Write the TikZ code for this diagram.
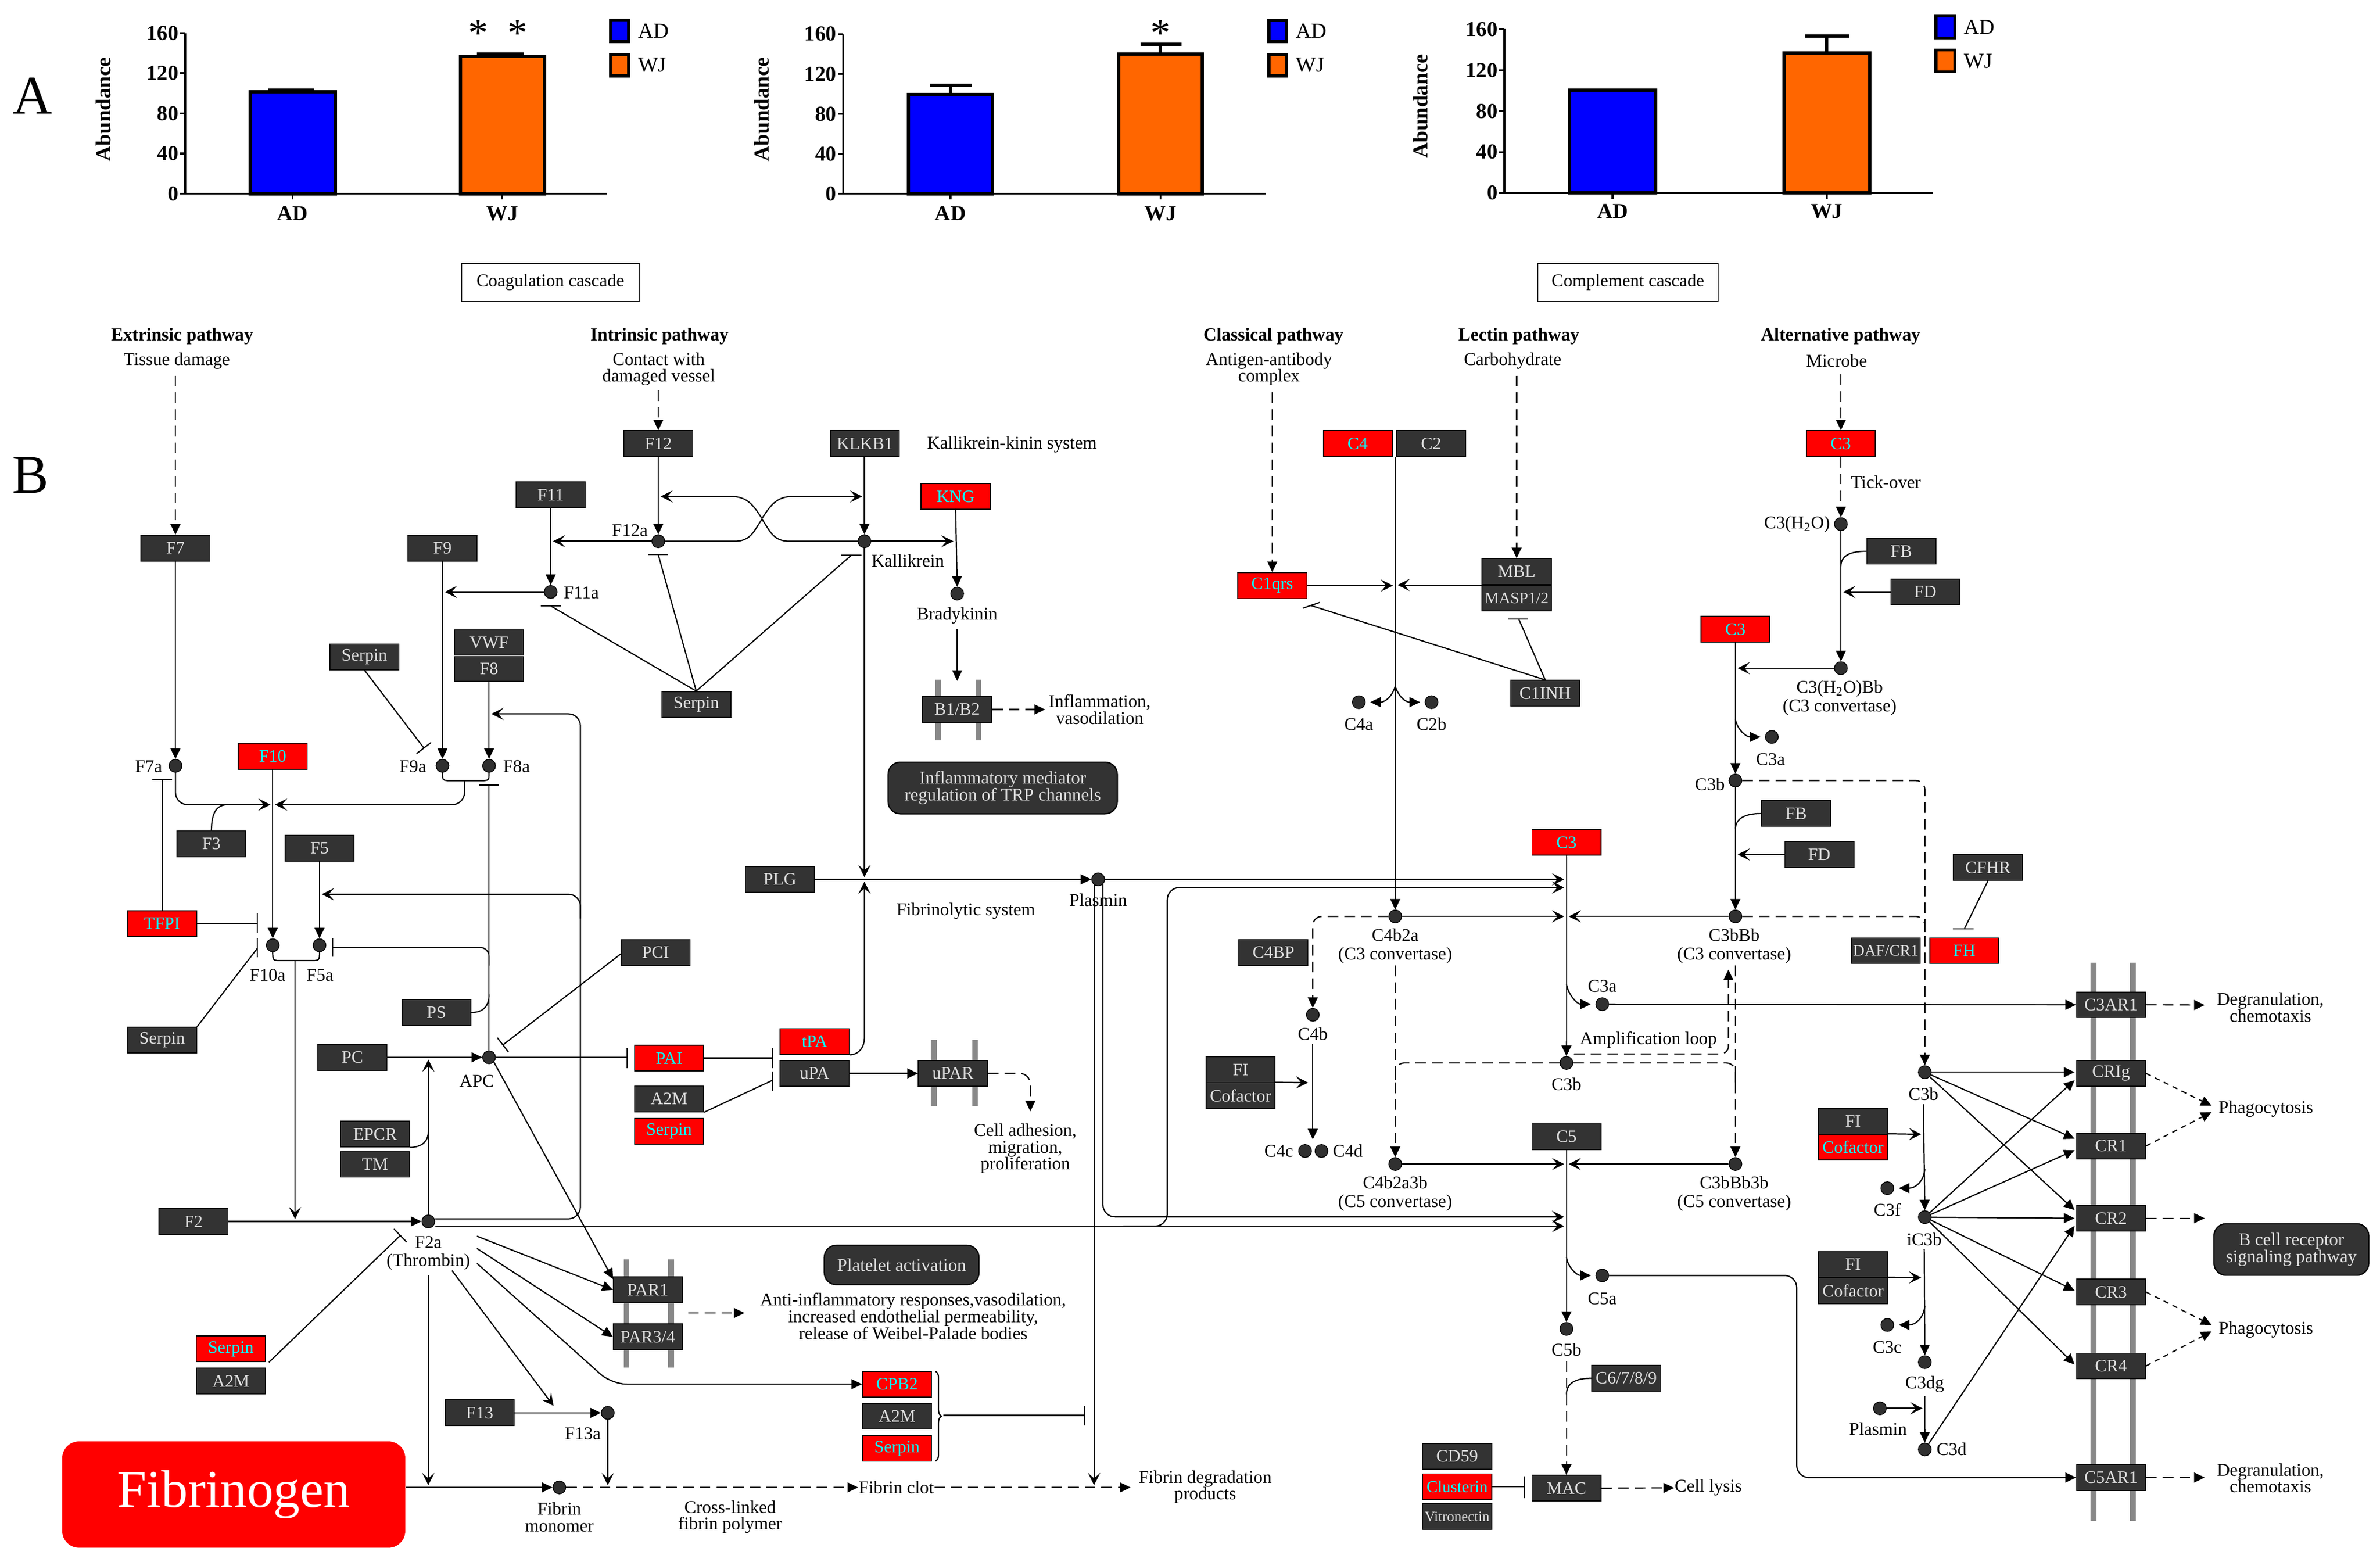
\documentclass[tikz,border=0pt]{standalone}
\usepackage{fontspec}
\setmainfont{Liberation Serif}
\usetikzlibrary{arrows.meta,calc,decorations.pathreplacing}
\definecolor{boxg}{HTML}{333333}
\definecolor{boxt}{HTML}{E0E0E0}
\definecolor{dotg}{HTML}{303030}
\definecolor{kred}{HTML}{FF0000}
\definecolor{kcyan}{HTML}{00FFFF}
\definecolor{adblue}{HTML}{0000FF}
\definecolor{wjor}{HTML}{FF6600}
\definecolor{memg}{HTML}{888888}
\newcommand\labfont{\fontsize{11.8}{11}\selectfont}
\newcommand\boxfont{\fontsize{11.5}{11.5}\selectfont}
\newcommand\chfont{\fontsize{14}{14}\selectfont\bfseries}
\newcommand\lgfont{\fontsize{14}{14}\selectfont}
\begin{document}
\begin{tikzpicture}[x=1pt,y=-1pt, line width=0.8pt,
 gbox/.style={draw=black, line width=0.6pt, fill=boxg, text=boxt, minimum width=45.5pt, minimum height=17pt, inner sep=0pt, font=\boxfont},
 rbox/.style={gbox, fill=kred, text=kcyan},
 dotn/.style={circle, draw=black, line width=0.5pt, fill=dotg, minimum size=8.5pt, inner sep=0pt},
 lab/.style={font=\labfont, inner sep=0pt, align=center},
 hd/.style={font={\fontsize{12}{12}\selectfont\bfseries}, inner sep=0pt},
 pbox/.style={draw=black, fill=boxg, text=boxt, rounded corners=8pt, font=\labfont, align=center, inner sep=0pt},
 arrT/.style={-{Triangle[length=7pt,width=6.5pt]}},
 arrS/.style={-{Stealth[length=8pt,width=8pt,inset=3.5pt]}},
 arrSS/.style={{Stealth[length=8pt,width=8pt,inset=3.5pt]}-{Stealth[length=8pt,width=8pt,inset=3.5pt]}},
 arrB/.style={-{Bar[width=12pt]}},
 dsh/.style={dash pattern=on 7pt off 4pt},
 dsf/.style={dash pattern=on 3.5pt off 3pt},
 mem/.style={draw=memg, line width=3.8pt},
 axisl/.style={line width=1.2pt},
 barl/.style={line width=2.2pt},
]
\useasboundingbox (0,0) rectangle (1568,1024.2);

% ================= Part A =================
\node[font=\fontsize{36}{36}\selectfont, inner sep=0pt] (lblA) at (21.5,63) {A};
\node[font=\fontsize{36}{36}\selectfont, inner sep=0pt] (lblB) at (20,313) {B};

% chart 1
\draw[axisl] (122,21.8) -- (122,127.6) -- (400,127.6);
\foreach \v in {0,40,80,120,160}{
  \draw[axisl] (118.5,{127.6-0.661*\v}) -- (122,{127.6-0.661*\v});
  \node[font=\chfont, anchor=east, inner sep=0pt] (ca\v) at (118,{127.6-0.661*\v}) {\v};}
\draw[axisl] (192.8,127.6) -- (192.8,131.5);
\draw[axisl] (331,127.6) -- (331,131.5);
\draw[barl, fill=adblue] (164.8,127.6) rectangle (220.9,60.4);
\draw[barl] (176.7,59.3) -- (207,59.3);
\draw[barl, fill=wjor] (303.4,127.6) rectangle (358.9,37.1);
\draw[barl] (314.2,35.8) -- (345.3,35.8);
\node[font=\chfont, inner sep=0pt] (xa1) at (192.8,140.7) {AD};
\node[font=\chfont, inner sep=0pt] (xb1) at (331,140.7) {WJ};
\node[font=\fontsize{26}{26}\selectfont, anchor=north, inner sep=0pt] (st1) at (315,13) {*};
\node[font=\fontsize{26}{26}\selectfont, anchor=north, inner sep=0pt] (st2) at (341,13) {*};
\node[font=\chfont, rotate=90, inner sep=0pt] (ab1) at (68,72) {Abundance};
\draw[line width=2pt, fill=adblue] (402.2,13.1) rectangle (414.3,27.3);
\draw[line width=2pt, fill=wjor] (402.2,36) rectangle (414.3,50);
\node[font=\lgfont, anchor=west, inner sep=0pt] (lg1a) at (420,20.5) {AD};
\node[font=\lgfont, anchor=west, inner sep=0pt] (lg1b) at (420,43) {WJ};

% chart 2
\draw[axisl] (555.4,22.5) -- (555.4,127.6) -- (834,127.6);
\foreach \v in {0,40,80,120,160}{
  \draw[axisl] (551.9,{127.6-0.6575*\v}) -- (555.4,{127.6-0.6575*\v});
  \node[font=\chfont, anchor=east, inner sep=0pt] (cb\v) at (551.4,{127.6-0.6575*\v}) {\v};}
\draw[axisl] (626.2,127.6) -- (626.2,131.5);
\draw[axisl] (764.5,127.6) -- (764.5,131.5);
\draw[barl] (626.2,62.2) -- (626.2,56.3);
\draw[barl] (612.5,56.3) -- (640.2,56.3);
\draw[barl, fill=adblue] (598.6,127.6) rectangle (653.9,62.2);
\draw[barl] (764.5,35.5) -- (764.5,29.2);
\draw[barl] (751.3,29.2) -- (778.3,29.2);
\draw[barl, fill=wjor] (737.1,127.6) rectangle (792,35.5);
\node[font=\chfont, inner sep=0pt] (xa2) at (626.2,140.7) {AD};
\node[font=\chfont, inner sep=0pt] (xb2) at (764.5,140.7) {WJ};
\node[font=\fontsize{26}{26}\selectfont, anchor=north, inner sep=0pt] (st3) at (764.4,13) {*};
\node[font=\chfont, rotate=90, inner sep=0pt] (ab2) at (501.9,72) {Abundance};
\draw[line width=2pt, fill=adblue] (835.9,13.5) rectangle (847.7,27.3);
\draw[line width=2pt, fill=wjor] (835.9,36) rectangle (847.7,50);
\node[font=\lgfont, anchor=west, inner sep=0pt] (lg2a) at (853.5,20.5) {AD};
\node[font=\lgfont, anchor=west, inner sep=0pt] (lg2b) at (853.5,43) {WJ};

% chart 3
\draw[axisl] (991.1,19.2) -- (991.1,127.1) -- (1273.7,127.1);
\foreach \v in {0,40,80,120,160}{
  \draw[axisl] (987.6,{127.1-0.674*\v}) -- (991.1,{127.1-0.674*\v});
  \node[font=\chfont, anchor=east, inner sep=0pt] (cc\v) at (987.1,{127.1-0.674*\v}) {\v};}
\draw[axisl] (1062.4,127.1) -- (1062.4,131);
\draw[axisl] (1203.5,127.1) -- (1203.5,131);
\draw[barl, fill=adblue] (1034,127.1) rectangle (1090.8,59.3);
\draw[barl] (1203.5,34.9) -- (1203.5,23.6);
\draw[barl] (1189.5,23.6) -- (1218,23.6);
\draw[barl, fill=wjor] (1175.3,127.1) rectangle (1231.8,34.9);
\node[font=\chfont, inner sep=0pt] (xa3) at (1062.4,139.2) {AD};
\node[font=\chfont, inner sep=0pt] (xb3) at (1203.5,139.2) {WJ};
\node[font=\chfont, rotate=90, inner sep=0pt] (ab3) at (935.6,70) {Abundance};
\draw[line width=2pt, fill=adblue] (1275.4,10.5) rectangle (1287.8,25);
\draw[line width=2pt, fill=wjor] (1275.4,33) rectangle (1287.8,47.3);
\node[font=\lgfont, anchor=west, inner sep=0pt] (lg3a) at (1293.5,18) {AD};
\node[font=\lgfont, anchor=west, inner sep=0pt] (lg3b) at (1293.5,40.5) {WJ};

% ================= Part B =================
% membranes
\draw[mem] (618,447.7) -- (618,487.6);
\draw[mem] (644.5,447.7) -- (644.5,487.6);
\draw[mem] (615.3,685) -- (615.3,728.5);
\draw[mem] (642.3,685) -- (642.3,728.5);
\draw[mem] (412.8,829.5) -- (412.8,900.8);
\draw[mem] (442.1,829.5) -- (442.1,900.8);
\draw[mem] (1379.3,634) -- (1379.3,1001.9);
\draw[mem] (1405.2,634) -- (1405.2,1001.9);

\node[draw=black, line width=0.6pt, minimum width=117pt, minimum height=25pt, font=\labfont, inner sep=0pt] (coag) at (362.6,186) {Coagulation cascade};
\node[draw=black, line width=0.6pt, minimum width=119pt, minimum height=25pt, font=\labfont, inner sep=0pt] (compl) at (1072.5,186) {Complement cascade};

% ---- coagulation nodes
\node[hd] (hExt) at (120,221.4) {Extrinsic pathway};
\node[lab] (tTis) at (116.5,237.7) {Tissue damage};
\node[hd] (hInt) at (434.5,221.4) {Intrinsic pathway};
\node[lab] (tCon) at (434,243.2) {Contact with\\damaged vessel};
\node[gbox] (F12) at (433.7,292.2) {F12};
\node[gbox] (KLKB1) at (569.8,292.2) {KLKB1};
\node[lab, anchor=west] (tKKS) at (610.4,293) {Kallikrein-kinin system};
\node[rbox] (KNG) at (629.6,327) {KNG};
\node[gbox] (F11) at (362.8,326) {F11};
\node[dotn] (F12a) at (433.7,356.5) {};
\node[lab] (lF12a) at (415,349.5) {F12a};
\node[dotn] (Kal) at (569.5,356.5) {};
\node[lab, anchor=west] (lKal) at (573.8,369.2) {Kallikrein};
\node[dotn] (F11a) at (362.8,389.9) {};
\node[lab, anchor=west] (lF11a) at (371,390.5) {F11a};
\node[dotn] (Brady) at (630.6,391) {};
\node[lab] (lBrady) at (630.6,405.6) {Bradykinin};
\node[gbox] (B12) at (630.6,467.3) {B1/B2};
\node[lab] (tInfl) at (724.5,467.3) {Inflammation,\\vasodilation};
\node[pbox, minimum width=151pt, minimum height=34pt] (pTRP) at (660.6,519) {Inflammatory mediator\\regulation of TRP channels};
\node[gbox] (F7) at (115.6,361) {F7};
\node[gbox] (F9) at (291.5,361) {F9};
\node[gbox] (SerA) at (240.1,432.6) {Serpin};
\node[gbox, minimum height=16.4pt] (VWF) at (322.2,423.2) {VWF};
\node[gbox, minimum height=16.4pt] (F8) at (322.2,440.6) {F8};
\node[gbox] (SerB) at (458.7,464) {Serpin};
\node[dotn] (F7a) at (115.6,504.4) {};
\node[lab] (lF7a) at (98,505) {F7a};
\node[rbox] (F10) at (179.7,498.1) {F10};
\node[dotn] (F9a) at (291.5,504.4) {};
\node[lab] (lF9a) at (272,505) {F9a};
\node[dotn] (F8a) at (322.2,504.4) {};
\node[lab] (lF8a) at (340.3,505) {F8a};
\node[gbox] (F3) at (139.3,555.7) {F3};
\node[gbox] (F5) at (210.5,558.7) {F5};
\node[rbox] (TFPI) at (106.8,608.3) {TFPI};
\node[dotn] (F10a) at (179.7,622.6) {};
\node[dotn] (F5a) at (210.5,622.6) {};
\node[lab] (lF10a) at (176.3,642.2) {F10a};
\node[lab] (lF5a) at (210.8,642.2) {F5a};
\node[gbox] (PLG) at (513.8,579.2) {PLG};
\node[dotn] (Plas) at (723.5,579.2) {};
\node[lab] (lPlas) at (723.5,592.7) {Plasmin};
\node[lab] (tFib) at (636.3,600.3) {Fibrinolytic system};
\node[gbox] (PCI) at (431.9,627.4) {PCI};
\node[gbox] (PS) at (287.5,666.9) {PS};
\node[gbox] (SerC) at (106.8,685.1) {Serpin};
\node[gbox] (PC) at (232.2,696.4) {PC};
\node[dotn] (APC) at (322.2,696.4) {};
\node[lab] (lAPC) at (314.2,712.2) {APC};
\node[rbox] (PAI) at (440.8,696.9) {PAI};
\node[rbox] (tPA) at (536.7,686) {tPA};
\node[gbox] (uPA) at (536.7,707) {uPA};
\node[gbox] (uPAR) at (627.8,707) {uPAR};
\node[lab] (tCell) at (675.5,756.6) {Cell adhesion,\\migration,\\proliferation};
\node[gbox] (A2Ma) at (440.8,723.8) {A2M};
\node[rbox] (SerD) at (440.8,745.1) {Serpin};
\node[gbox] (EPCR) at (247.1,747) {EPCR};
\node[gbox] (TM) at (247.1,766.9) {TM};
\node[gbox] (F2) at (127.5,804.5) {F2};
\node[dotn] (F2a) at (282.2,804.5) {};
\node[lab] (lF2a) at (282.2,825.5) {F2a\\[1pt](Thrombin)};
\node[gbox] (PAR1) at (426.8,849.6) {PAR1};
\node[gbox] (PAR34) at (426.8,880.5) {PAR3/4};
\node[pbox, minimum width=102pt, minimum height=26pt] (pPlt) at (594,833.2) {Platelet activation};
\node[lab] (tAnti) at (601.6,867) {Anti-inflammatory responses,vasodilation,\\increased endothelial permeability,\\release of Weibel-Palade bodies};
\node[rbox] (SerE) at (152.1,888.5) {Serpin};
\node[gbox] (A2Mb) at (152.1,909.7) {A2M};
\node[rbox] (CPB2) at (591,911.7) {CPB2};
\node[gbox] (A2Mc) at (591,932.8) {A2M};
\node[rbox] (SerF) at (591,954) {Serpin};
\node[gbox] (F13) at (316.1,930.6) {F13};
\node[dotn] (F13a) at (400.4,930.6) {};
\node[lab] (lF13a) at (384,944.4) {F13a};
\node[fill=kred, rounded corners=11pt, minimum width=226pt, minimum height=70pt, text=white, font=\fontsize{35}{35}\selectfont, inner sep=0pt] (Fbg) at (154,984.4) {Fibrinogen};
\node[dotn] (Fmono) at (368.5,979.7) {};
\node[lab] (lFmono) at (368.5,999.4) {Fibrin\\monomer};
\node[lab] (tCross) at (481,999.2) {Cross-linked\\fibrin polymer};
\node[lab] (tClot) at (590.5,979.7) {Fibrin clot};
\node[lab] (tDeg) at (794,979.5) {Fibrin degradation\\products};

% ---- complement nodes
\node[hd] (hCla) at (839,221.4) {Classical pathway};
\node[lab] (tAnt) at (836,243.2) {Antigen-antibody\\complex};
\node[hd] (hLec) at (1000.7,221.4) {Lectin pathway};
\node[lab] (tCarb) at (996.6,237.7) {Carbohydrate};
\node[hd] (hAlt) at (1212.7,221.4) {Alternative pathway};
\node[lab] (tMic) at (1210,237.7) {Microbe};
\node[rbox] (C4) at (894.5,292.2) {C4};
\node[gbox] (C2) at (942.9,292.2) {C2};
\node[rbox] (C3top) at (1212.8,292.2) {C3};
\node[lab] (tTick) at (1242.5,317.4) {Tick-over};
\node[dotn] (C3H2O) at (1212.8,345.2) {};
\node[lab, anchor=east] (lC3H2O) at (1206,345.5) {C3(H\textsubscript{2}O)};
\node[gbox] (FB1) at (1252.6,363.1) {FB};
\node[gbox] (FD1) at (1268.4,389.9) {FD};
\node[dotn] (C3H2OBb) at (1212.8,440.1) {};
\node[lab] (lC3H2OBb) at (1212,459.7) {C3(H\textsubscript{2}O)Bb\\[1.3pt](C3 convertase)};
\node[rbox] (C1qrs) at (838.2,385.7) {C1qrs};
\node[gbox] (MBL) at (999.2,376.5) {MBL};
\node[gbox, font=\fontsize{10.5}{10.5}\selectfont] (MASP) at (999.2,393.9) {MASP1/2};
\node[gbox] (C1INH) at (1018,456.6) {C1INH};
\node[dotn] (C4a) at (895.2,462.5) {};
\node[dotn] (C2b) at (943.1,462.5) {};
\node[lab] (lC4a) at (895.2,477.1) {C4a};
\node[lab] (lC2b) at (943.1,477.1) {C2b};
\node[rbox] (C3r) at (1143.3,414.5) {C3};
\node[dotn] (C3a_u) at (1167.3,485.4) {};
\node[lab] (lC3au) at (1166.5,500) {C3a};
\node[dotn] (C3b_u) at (1143.3,514.1) {};
\node[lab] (lC3bu) at (1126.5,516.4) {C3b};
\node[gbox] (FB2) at (1183.3,535.8) {FB};
\node[gbox] (FD2) at (1198.6,562.8) {FD};
\node[rbox] (C3m) at (1032,554.8) {C3};
\node[gbox] (CFHR) at (1309.7,571.4) {CFHR};
\node[gbox, font=\fontsize{10.5}{10.5}\selectfont] (DAF) at (1242.4,626.2) {DAF/CR1};
\node[rbox] (FH) at (1294.1,626.2) {FH};
\node[dotn] (C4b2a) at (919.2,603.6) {};
\node[lab] (lC4b2a) at (919.2,623.2) {C4b2a\\[1.3pt](C3 convertase)};
\node[dotn] (C3bBb) at (1143.3,603.6) {};
\node[lab] (lC3bBb) at (1142.5,623.2) {C3bBb\\[1.3pt](C3 convertase)};
\node[gbox] (C4BP) at (839,627.3) {C4BP};
\node[dotn] (C3a_m) at (1055.6,661.4) {};
\node[lab] (lC3am) at (1055.6,649.4) {C3a};
\node[lab] (tAmp) at (1086,685) {Amplification loop};
\node[dotn] (C3b_m) at (1032,700.1) {};
\node[lab] (lC3bm) at (1032,714.2) {C3b};
\node[dotn] (C4b) at (864.9,668.4) {};
\node[lab] (lC4b) at (864.9,681) {C4b};
\node[gbox] (FIa) at (817.3,704.6) {FI};
\node[gbox] (Cofa) at (817.3,721.6) {Cofactor};
\node[dotn] (C4c) at (859.8,758.1) {};
\node[dotn] (C4d) at (870.6,758.1) {};
\node[lab] (lC4c) at (842.5,758.1) {C4c};
\node[lab] (lC4d) at (888,758.1) {C4d};
\node[gbox] (C5) at (1032,748.7) {C5};
\node[dotn] (C4b2a3b) at (919.2,766.7) {};
\node[lab] (lC4b2a3b) at (919.2,786.3) {C4b2a3b\\[1.3pt](C5 convertase)};
\node[dotn] (C3bBb3b) at (1143.3,766.7) {};
\node[lab] (lC3bBb3b) at (1142.5,786.3) {C3bBb3b\\[1.3pt](C5 convertase)};
\node[dotn] (C5a) at (1055.6,840.1) {};
\node[lab] (lC5a) at (1055.6,855.3) {C5a};
\node[dotn] (C5b) at (1032,875.3) {};
\node[lab] (lC5b) at (1032,889) {C5b};
\node[gbox] (C6789) at (1071.4,907.8) {C6/7/8/9};
\node[gbox] (CD59) at (960,959.2) {CD59};
\node[rbox, font=\fontsize{11}{11}\selectfont] (Clus) at (960,979.3) {Clusterin};
\node[gbox, font=\fontsize{9.5}{9.5}\selectfont] (Vitro) at (960,999) {Vitronectin};
\node[gbox] (MAC) at (1032,980.2) {MAC};
\node[lab] (tLysis) at (1125.5,980) {Cell lysis};
\node[dotn] (C3b_r) at (1268.1,706.2) {};
\node[lab] (lC3br) at (1267.2,720.7) {C3b};
\node[gbox] (FIb) at (1220.8,738.5) {FI};
\node[rbox] (Cofb) at (1220.8,755.6) {Cofactor};
\node[dotn] (C3f) at (1243.4,782.6) {};
\node[lab] (lC3f) at (1243.4,796.7) {C3f};
\node[dotn] (iC3b) at (1268.1,801.7) {};
\node[lab] (liC3b) at (1267.7,816.2) {iC3b};
\node[gbox] (FIc) at (1220.8,832.9) {FI};
\node[gbox] (Cofc) at (1220.8,850.1) {Cofactor};
\node[dotn] (C3c) at (1243.4,872.7) {};
\node[lab] (lC3c) at (1243.4,887.4) {C3c};
\node[dotn] (C3dg) at (1268.1,897.2) {};
\node[lab] (lC3dg) at (1268,911.8) {C3dg};
\node[dotn] (PlasR) at (1238.5,927.6) {};
\node[lab] (lPlasR) at (1237.3,941.1) {Plasmin};
\node[dotn] (C3d) at (1268.1,954.7) {};
\node[lab, anchor=west] (lC3d) at (1275.5,954.5) {C3d};
\node[gbox] (C3AR1) at (1390.8,661.8) {C3AR1};
\node[gbox] (CRIg) at (1390.8,707) {CRIg};
\node[gbox] (CR1) at (1390.8,754.8) {CR1};
\node[gbox] (CR2) at (1390.8,802.4) {CR2};
\node[gbox] (CR3) at (1390.8,851) {CR3};
\node[gbox] (CR4) at (1390.8,899.7) {CR4};
\node[gbox] (C5AR1) at (1390.8,973.2) {C5AR1};
\node[lab] (tDeg1) at (1495.8,663.5) {Degranulation,\\chemotaxis};
\node[lab] (tDeg2) at (1495.8,973.6) {Degranulation,\\chemotaxis};
\node[lab, anchor=west] (tPhag1) at (1461.3,730.5) {Phagocytosis};
\node[lab, anchor=west] (tPhag2) at (1461.3,876) {Phagocytosis};
\node[pbox, minimum width=102pt, minimum height=34pt] (pBcr) at (1509.6,823) {B cell receptor\\signaling pathway};

% ================= coagulation edges =================
\draw[dsh,arrT] (F7.north |- 0,247.5) -- (F7.north);
\draw[dsh,arrT] (F12.north |- 0,257) -- (F12.north);
\draw[arrT] (F12.south) -- (F12a.north);
\draw[arrT] (Kal.north |- KLKB1.south) -- (Kal.north);
\draw[arrS, shorten >=1.5pt] (F12a.west) -- (F11.south |- F12a);
\draw[arrS, shorten >=1.5pt] (Kal.east) -- (KNG.south |- Kal);
\draw[arrSS, shorten <=1.5pt, shorten >=1.5pt] (F12.south |- 0,327) -- (482,327) .. controls (493,327) and (497,334) .. (502,341.5) .. controls (507,334) and (511,327) .. (522,327) -- (Kal.north |- 0,327);
\draw (F12a.east) -- (484,356.5) .. controls (495,356.5) and (497,349) .. (502,342) .. controls (507,349) and (509,356.5) .. (520,356.5) -- (Kal.west);
\draw[arrT] (F11.south) -- (F11a.north);
\draw[arrS, shorten >=1.5pt] (F11a.west) -- (F9.south |- F11a);
\draw (SerB.north) -- (363,399.2); \draw (356.3,399.2) -- (369.5,399.2);
\draw (SerB.north) -- (433.7,365.4); \draw (427.2,365.4) -- (440.2,365.4);
\draw (SerB.north) -- (561,365.6); \draw (554.2,365.6) -- (567.6,365.6);
\draw[arrT] (KNG.south) -- (Brady.north);
\draw[arrT] ([yshift=-3pt]lBrady.south) -- ([yshift=10pt]B12.north);
\draw[dsh, arrT] (B12.east) -- ([xshift=-2pt]tInfl.west |- B12.east);
\draw[arrT] (F7.south) -- (F7a.north);
\draw[arrS, rounded corners=8pt, shorten >=1.5pt] (F7a.south) -- (F7a |- 0,530) -- (F10.south |- 0,530);
\draw (F3.north) .. controls (139.3,535) and (143,530) .. (150,530);
\draw (F9a.south) .. controls (291.5,514.2) .. (298,514.2) -- (315.5,514.2) .. controls (322.2,514.2) .. (F8a.south);
\draw[arrS, rounded corners=8pt, shorten >=1.5pt] (306,514.2) -- (306,530) -- (F10.south |- 0,530);
\draw[arrT] (F9.south) -- (F9a.north);
\draw[arrT] (F8.south) -- (F8a.north);
\draw[arrB] (SerA.south) -- (279.5,493);
\draw[arrT] (F10.south) -- (F10a.north);
\draw[arrT] (F5.south) -- (F5a.north);
\draw (TFPI.north) -- (106.8,513.5); \draw (100.3,513.5) -- (113.4,513.5);
\draw (TFPI.east) -- (169.6,608.3); \draw (169.6,601.5) -- (169.6,614.5);
\draw (SerC.north east) -- (169.6,624.5); \draw (169.6,618) -- (169.6,630.5);
\draw (F10a.south) .. controls (179.7,632.7) .. (186,632.7) -- (204,632.7) .. controls (210.5,632.7) .. (F5a.south);
\draw[arrS, shorten >=1.5pt] (194.4,632.7) -- (194.4,804.5);
\draw (APC.north) -- (322.2,517); \draw (315.7,517) -- (328.7,517);
\draw[rounded corners=6pt] (219.1,624) -- (322.2,624) -- (322.2,636);
\draw (219.1,617.8) -- (219.1,630.2);
\draw (PS.east) .. controls (318,666.9) and (322.2,663) .. (322.2,655);
\draw[arrS, rounded corners=8pt, shorten >=1.5pt] (F2a.east |- 0,802.8) -- (382.4,802.8) -- (382.4,470.2) -- (F8.south |- 0,470.2);
\draw[arrS, rounded corners=8pt, shorten >=1.5pt] (382.4,605) -- (382.4,589) -- (F5.south |- 0,589);
\draw[arrT] (F2.east) -- (F2a.west);
\draw[arrS, shorten >=1.5pt] (F2a.north) -- (F2a |- APC);
\draw[arrT] (PC.east) -- (APC.west);
\draw (EPCR.south east) .. controls (278,755.5) and (282.2,752) .. (282.2,745);
\draw (APC.east) -- (413,696.4); \draw (413,690.3) -- (413,703.4);
\draw[arrB] ([yshift=-1pt]PCI.west) -- (331,688.5);
\draw (PAI.east) -- (509,696.9); \draw (509,690.3) -- (509,703.4);
\draw (A2Ma.south east) -- (509,711.5); \draw (509,705.6) -- (509,718.7);
\draw[arrS, shorten >=1.5pt] (tPA.south east) .. controls (566,694.5) and (569.5,690) .. (569.5,683) -- (Kal |- PLG);
\draw[arrS, shorten >=1.5pt] (Kal.south) -- (Kal |- PLG);
\draw[arrT] (PLG.east) -- (Plas.west);
\draw[arrT] (uPA.east) -- (uPAR.west);
\draw[dsh, arrT, rounded corners=7pt] (uPAR.east) -- (678.8,707) -- (678.8,732);
\draw[arrS, shorten >=1.5pt] (Plas.east) -- (C3m.south |- Plas);
\draw[arrS, rounded corners=8pt, shorten >=1.5pt] (726.6,582.5) -- (726.6,801.5) -- (C5.south |- 0,801.5);
\draw[arrS, shorten >=1.5pt] (720.8,582.5) -- (720.8,979.7);
\draw[arrS, shorten >=1.5pt] (F2a.east |- 0,807.6) -- (C5.south |- 0,807.6);
\draw[arrS, rounded corners=8pt, shorten >=1.5pt] (740,807.6) -- (769,807.6) -- (769,584.6) -- (C3m.south |- 0,584.6);
\draw[arrS, shorten >=1.5pt] ([yshift=-3pt]lF2a.south) -- (F2a |- Fmono);
\draw[arrT] (Fbg.east |- Fmono) -- (Fmono.west);
\draw[dsh, arrT] (Fmono.east) -- (tClot.west);
\draw[dsh, arrT, shorten >=5pt] (tClot.east) -- (tDeg.west |- tClot);
\draw[arrT] (F13.east) -- (F13a.west);
\draw[arrS, shorten >=1.5pt] (F13a.south) -- (F13a |- Fmono);
\draw[arrS] (297.8,836.9) -- (364.7,926);
\draw[arrT] (314.2,814.2) -- (PAR1.west);
\draw[arrT] (314.2,822.3) -- (PAR34.west);
\draw[arrT, rounded corners=10pt] (314.2,832.1) -- (403,911.7) -- (CPB2.west);
\draw[arrT] (APC.south east) -- (403.9,842.5);
\draw[dsh, arrT] (453.4,864.8) -- (490.5,864.8);
\draw[arrB] ([xshift=2pt]SerE.south east) -- (264,813.5);
\draw[decorate, decoration={brace, amplitude=4pt}] (616.3,903.2) -- (616.3,962.4);
\draw (621.5,932.3) -- (714.4,932.3); \draw (714.4,925.8) -- (714.4,938.8);

% ================= complement edges =================
\draw[dsh, arrT] (C1qrs.north |- 0,258.5) -- (C1qrs.north);
\draw[dsh, arrT] (MBL.north |- 0,247.5) -- (MBL.north);
\draw[arrT] (C4b2a.north |- C4.south) -- (C4b2a.north);
\draw[arrS, shorten >=1.5pt] (C1qrs.east) -- (C4b2a |- C1qrs);
\draw[arrS, shorten >=1.5pt] (MBL.south west) -- (C4b2a |- MBL.south west);
\draw (C1INH.north) -- (1000.7,408); \draw (993.5,407.8) -- (1006.5,407.8);
\draw (C1INH.north) -- (863.6,398.8); \draw (858.3,400.6) -- (869.5,396.8);
\draw[arrT, shorten >=3pt] (C4b2a |- 0,452) .. controls (917.5,458) and (913,462.5) .. (C4a.east);
\draw[arrT, shorten >=3pt] (C4b2a |- 0,452) .. controls (921,458) and (925.5,462.5) .. (C2b.west);
\draw[arrS, shorten >=1.5pt] (C4b2a.east) -- (C3m.south |- C4b2a);
\draw[arrS, shorten >=1.5pt] (C3bBb.west) -- (C3m.south |- C3bBb);
\draw[dsh, arrT, rounded corners=6pt] (C4b2a.west) -- (C4b |- C4b2a) -- (C4b.north);
\draw[arrT] ([yshift=-2pt]lC4b.south) -- (C4b |- 0,750.5);
\draw[arrS] (Cofa.north east) -- (861.8,713.1);
\draw[dsh, arrT] (C4b2a |- 0,636) -- (C4b2a3b.north);
\draw[dsh, arrT] (C3bBb |- 0,636) -- (C3bBb3b.north);
\draw[dsh, rounded corners=6pt] (C3b_m.west) -- (C4b2a |- C3b_m) -- (C4b2a |- 0,714);
\draw[dsh, rounded corners=6pt] (C3b_m.east) -- (C3bBb |- C3b_m) -- (C3bBb |- 0,714);
\draw[dsh, arrT, rounded corners=5pt] (1032,686) -- (1032,694.2) -- (1138.7,694.2) -- (1138.7,638.6);
\draw[arrT] (C3m.south) -- (C3b_m.north);
\draw[arrT, shorten >=3pt] (C3m.south |- 0,648) .. controls (1033,655) and (1039,661.4) .. (C3a_m.west);
\draw[arrT] (C3a_m.east) -- (C3AR1.west);
\draw[arrS, shorten >=1.5pt] (C4b2a3b.east) -- (C5.south |- C4b2a3b);
\draw[arrS, shorten >=1.5pt] (C3bBb3b.west) -- (C5.south |- C3bBb3b);
\draw[arrT] (C5.south) -- (C5b.north);
\draw[arrT, shorten >=3pt] (C5.south |- 0,828) .. controls (1033,835) and (1039,840.1) .. (C5a.west);
\draw[arrT, rounded corners=8pt] (C5a.east) -- (1183.7,840.1) -- (1183.7,973.2) -- (C5AR1.west);
\draw[dsh, arrT] ([yshift=-3pt]lC5b.south) -- (MAC.north);
\draw (C6789.west) .. controls (1038,907.8) and (1032,911) .. (1032,918.5);
\draw[dsh, arrT] (MAC.east) -- (tLysis.west);
\draw (Clus.east) -- (1004.3,979.3); \draw (1004.3,972.5) -- (1004.3,986.7);
\draw[dsh, arrT] (C3top.north |- 0,246.5) -- (C3top.north);
\draw[dsh, arrT] (C3top.south) -- (C3H2O.north);
\draw[arrT] (C3H2O.south) -- (C3H2OBb.north);
\draw (FB1.west) .. controls (1219,363.1) and (1212.8,366) .. (1212.8,373);
\draw[arrS, shorten >=1.5pt] (FD1.west) -- (C3H2O |- FD1);
\draw[arrS, shorten >=1.5pt] (C3H2OBb.west) -- (C3r.south |- C3H2OBb);
\draw[arrT] (C3r.south) -- (C3b_u.north);
\draw[arrT, shorten >=3pt] (C3r.south |- 0,474) .. controls (1144.5,480) and (1150,485.4) .. (C3a_u.west);
\draw (FB2.west) .. controls (1150,535.8) and (1143.3,539) .. (1143.3,546);
\draw[arrS, shorten >=1.5pt] (FD2.west) -- (C3r.south |- FD2);
\draw[arrT] (C3b_u.south) -- (C3bBb.north);
\draw[dsh, arrT, rounded corners=6pt] (C3b_u.east) -- (C3b_r |- C3b_u) -- (C3b_r.north);
\draw[dsh, rounded corners=6pt] (C3bBb.east) -- (C3b_r |- C3bBb) -- (C3b_r |- 0,616);
\draw (CFHR.south) -- (1294.3,611.5); \draw (1286.6,611.8) -- (1300.4,611.8);
\draw[arrT] ([yshift=-2pt]lC3br.south) -- (iC3b.north);
\draw[arrT] ([yshift=-2pt]liC3b.south) -- (C3dg.north);
\draw[arrT] ([yshift=-2pt]lC3dg.south) -- (C3d.north);
\draw[arrS] (Cofb.north east) -- (1265.7,747.1);
\draw[arrS] (Cofc.north east) -- (1265.7,841.5);
\draw[arrT, shorten >=3pt] (1268.1,770) .. controls (1267.5,778) and (1262,782.6) .. (C3f.east);
\draw[arrT, shorten >=3pt] (1268.1,860) .. controls (1267.5,868) and (1262,872.7) .. (C3c.east);
\draw[arrS, shorten >=1.5pt] (PlasR.east) -- (C3d |- PlasR);
\draw[arrT] (C3b_r) -- ($(CRIg.west)+(-1,-0.8)$);
\draw[arrT] (C3b_r) -- ($(CR1.west)+(-1,-4.8)$);
\draw[arrT] (C3b_r) -- ($(CR2.west)+(-1,-5.4)$);
\draw[arrT] (iC3b) -- ($(CRIg.west)+(-1,4.5)$);
\draw[arrT] (iC3b) -- ($(CR1.west)+(-1,2.8)$);
\draw[arrT] (iC3b) -- ($(CR2.west)+(-1,0)$);
\draw[arrT] (iC3b) -- ($(CR3.west)+(-1,-1)$);
\draw[arrT] (iC3b) -- ($(CR4.west)+(-1,-1)$);
\draw[arrT] (C3d) -- ($(CR2.west)+(-1,5)$);
\draw[dsf, arrT] (CRIg.east) -- (1457,728.3);
\draw[dsf, arrT] (CR1.east) -- (1457,732.5);
\draw[dsh, arrT] (CR2.east) -- (1452.5,802.4);
\draw[dsf, arrT] (CR3.east) -- (1457,872.7);
\draw[dsf, arrT] (CR4.east) -- (1457,877);
\draw[dsh, arrT] (C5AR1.east) -- (1452.5,973.2);
\draw[dsh, arrT] (C3AR1.east) -- (1452.5,662);
\end{tikzpicture}
\end{document}
